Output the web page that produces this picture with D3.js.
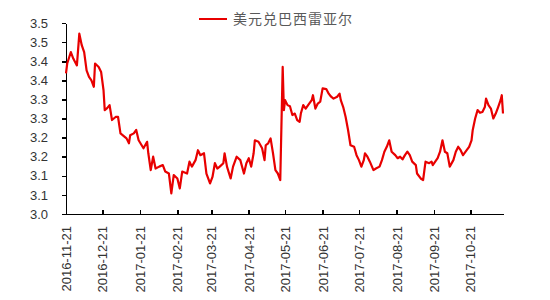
<!DOCTYPE html>
<html>
<head>
<meta charset="utf-8">
<script src="https://cdnjs.cloudflare.com/ajax/libs/d3/7.8.5/d3.min.js"></script>
<style>
	body { margin: 0; background: #fff; }
	.axis path, .axis line { stroke: #000; stroke-width: 1.6px; shape-rendering: crispEdges; }
	.axis text { font-family: "Liberation Sans", Arial, sans-serif; font-size: 13px; fill: #333; }
	.legend-text { font-family: "Noto Sans CJK SC", sans-serif; font-size: 14px; fill: #595959; letter-spacing: 1px; }
</style>
</head>
<body>
<div id="chart"></div>
<script>

////////////////////////////////////////////////////////////
////////////////////////// Data ////////////////////////////
////////////////////////////////////////////////////////////

var seriesName = "美元兑巴西雷亚尔";

var dates = [
	"2016-11-21","2016-11-22","2016-11-25","2016-11-27","2016-11-30","2016-12-02","2016-12-04","2016-12-06","2016-12-08","2016-12-10",
	"2016-12-12","2016-12-14","2016-12-15","2016-12-18","2016-12-20","2016-12-22","2016-12-23","2016-12-25","2016-12-27","2016-12-29",
	"2017-01-01","2017-01-03","2017-01-05","2017-01-07","2017-01-10","2017-01-12","2017-01-13","2017-01-16","2017-01-18","2017-01-20",
	"2017-01-24","2017-01-27","2017-01-28","2017-01-30","2017-02-01","2017-02-03","2017-02-06","2017-02-09","2017-02-11","2017-02-14",
	"2017-02-16","2017-02-18","2017-02-21","2017-02-23","2017-02-25","2017-03-01","2017-03-03","2017-03-05","2017-03-08","2017-03-10",
	"2017-03-12","2017-03-15","2017-03-17","2017-03-20","2017-03-22","2017-03-24","2017-03-26","2017-03-28","2017-03-31","2017-04-01",
	"2017-04-03","2017-04-06","2017-04-08","2017-04-11","2017-04-14","2017-04-17","2017-04-19","2017-04-21","2017-04-23","2017-04-25",
	"2017-04-26","2017-04-29","2017-05-02","2017-05-04","2017-05-05","2017-05-07","2017-05-09","2017-05-11","2017-05-13","2017-05-15",
	"2017-05-17","2017-05-19","2017-05-20","2017-05-21","2017-05-23","2017-05-25","2017-05-27","2017-05-29","2017-05-31","2017-06-02",
	"2017-06-03","2017-06-05","2017-06-07","2017-06-09","2017-06-12","2017-06-13","2017-06-15","2017-06-17","2017-06-19","2017-06-21",
	"2017-06-24","2017-06-26","2017-06-28","2017-06-30","2017-07-03","2017-07-05","2017-07-06","2017-07-08","2017-07-10","2017-07-12",
	"2017-07-14","2017-07-17","2017-07-19","2017-07-21","2017-07-23","2017-07-25","2017-07-26","2017-07-28","2017-07-30","2017-08-02",
	"2017-08-04","2017-08-07","2017-08-09","2017-08-11","2017-08-13","2017-08-15","2017-08-17","2017-08-20","2017-08-22","2017-08-24",
	"2017-08-26","2017-08-28","2017-08-30","2017-09-01","2017-09-03","2017-09-06","2017-09-07","2017-09-10","2017-09-12","2017-09-14",
	"2017-09-17","2017-09-19","2017-09-20","2017-09-22","2017-09-24","2017-09-26","2017-09-28","2017-09-30","2017-10-02","2017-10-04",
	"2017-10-07","2017-10-09","2017-10-11","2017-10-13","2017-10-15","2017-10-18","2017-10-20","2017-10-22","2017-10-23","2017-10-25",
	"2017-10-27","2017-10-29","2017-10-31","2017-11-02","2017-11-03","2017-11-05","2017-11-07","2017-11-09","2017-11-11","2017-11-13",
	"2017-11-15","2017-11-16","2017-11-17"
];

var values = [
	3.368,3.394,3.424,3.407,3.389,3.472,3.442,3.424,3.376,3.359,
	3.350,3.333,3.394,3.385,3.372,3.324,3.272,3.277,3.285,3.246,
	3.254,3.254,3.211,3.206,3.198,3.185,3.206,3.211,3.220,3.193,
	3.172,3.189,3.159,3.115,3.150,3.119,3.124,3.128,3.111,3.106,
	3.054,3.102,3.093,3.067,3.111,3.106,3.137,3.124,3.141,3.167,
	3.154,3.159,3.106,3.080,3.097,3.133,3.119,3.124,3.133,3.159,
	3.124,3.093,3.124,3.150,3.141,3.106,3.133,3.146,3.124,3.159,
	3.193,3.189,3.172,3.141,3.180,3.185,3.198,3.159,3.115,3.106,
	3.089,3.385,3.272,3.298,3.285,3.282,3.259,3.263,3.246,3.241,
	3.263,3.285,3.276,3.285,3.298,3.311,3.276,3.289,3.294,3.329,
	3.327,3.315,3.307,3.302,3.307,3.315,3.298,3.280,3.254,3.220,
	3.180,3.176,3.154,3.141,3.124,3.141,3.159,3.150,3.137,3.115,
	3.119,3.124,3.141,3.163,3.176,3.193,3.163,3.154,3.146,3.150,
	3.143,3.154,3.163,3.154,3.137,3.128,3.106,3.093,3.089,3.137,
	3.133,3.137,3.128,3.137,3.146,3.163,3.193,3.163,3.159,3.124,
	3.141,3.163,3.176,3.167,3.154,3.167,3.176,3.193,3.220,3.250,
	3.272,3.265,3.267,3.280,3.302,3.285,3.276,3.250,3.263,3.280,
	3.298,3.311,3.263
];

var xTickDates = ["2016-11-21","2016-12-21","2017-01-21","2017-02-21","2017-03-21","2017-04-21",
	"2017-05-21","2017-06-21","2017-07-21","2017-08-21","2017-09-21","2017-10-21"];

var yTickValues = [3.00, 3.05, 3.10, 3.15, 3.20, 3.25, 3.30, 3.35, 3.40, 3.45, 3.50];
var yTickLabels = ["3.0","3.1","3.1","3.2","3.2","3.3","3.3","3.4","3.4","3.5","3.5"];

////////////////////////////////////////////////////////////
///////////////////////// Setup ////////////////////////////
////////////////////////////////////////////////////////////

var parseDate = d3.timeParse("%Y-%m-%d");

var data = dates.map(function(d,i) { return {date: parseDate(d), value: values[i]}; });

var margin = {top: 23, right: 47, bottom: 86, left: 66},
	width = 550 - margin.left - margin.right,
	height = 300 - margin.top - margin.bottom;

var svg = d3.select("#chart").append("svg")
	.attr("width", 550)
	.attr("height", 300)
	.append("g")
	.attr("transform", "translate(" + margin.left + "," + margin.top + ")");

var x = d3.scaleTime()
	.domain(d3.extent(data, function(d) { return d.date; }))
	.range([0, width]);

var y = d3.scaleLinear()
	.domain([3.0, 3.5])
	.range([height, 0]);

////////////////////////////////////////////////////////////
///////////////////////// Axes /////////////////////////////
////////////////////////////////////////////////////////////

var xAxis = d3.axisBottom(x)
	.tickValues(xTickDates.map(parseDate))
	.tickSizeInner(-4)
	.tickSizeOuter(0)
	.tickFormat(d3.timeFormat("%Y-%m-%d"));

svg.append("g")
	.attr("class", "axis x-axis")
	.attr("transform", "translate(0," + height + ")")
	.call(xAxis)
	.selectAll("text")
	.attr("transform", "rotate(-90)")
	.attr("x", -12)
	.attr("y", 0)
	.attr("dy", "0.35em")
	.style("text-anchor", "end");

var yAxis = d3.axisLeft(y)
	.tickValues(yTickValues)
	.tickSizeInner(4)
	.tickSizeOuter(0)
	.tickPadding(14)
	.tickFormat(function(d,i) { return yTickLabels[i]; });

svg.append("g")
	.attr("class", "axis y-axis")
	.call(yAxis);

////////////////////////////////////////////////////////////
///////////////////////// Line /////////////////////////////
////////////////////////////////////////////////////////////

var line = d3.line()
	.x(function(d) { return x(d.date); })
	.y(function(d) { return y(d.value); });

svg.append("path")
	.datum(data)
	.attr("fill", "none")
	.attr("stroke", "#e80000")
	.attr("stroke-width", 2.2)
	.attr("stroke-linejoin", "round")
	.attr("d", line);

////////////////////////////////////////////////////////////
//////////////////////// Legend ////////////////////////////
////////////////////////////////////////////////////////////

var legend = svg.append("g")
	.attr("transform", "translate(" + (199 - margin.left) + "," + (19 - margin.top) + ")");

legend.append("line")
	.attr("x1", 0)
	.attr("x2", 28)
	.attr("stroke", "#e80000")
	.attr("stroke-width", 2);

legend.append("text")
	.attr("class", "legend-text")
	.attr("x", 34)
	.attr("dy", "0.35em")
	.text(seriesName);

</script>
</body>
</html>
